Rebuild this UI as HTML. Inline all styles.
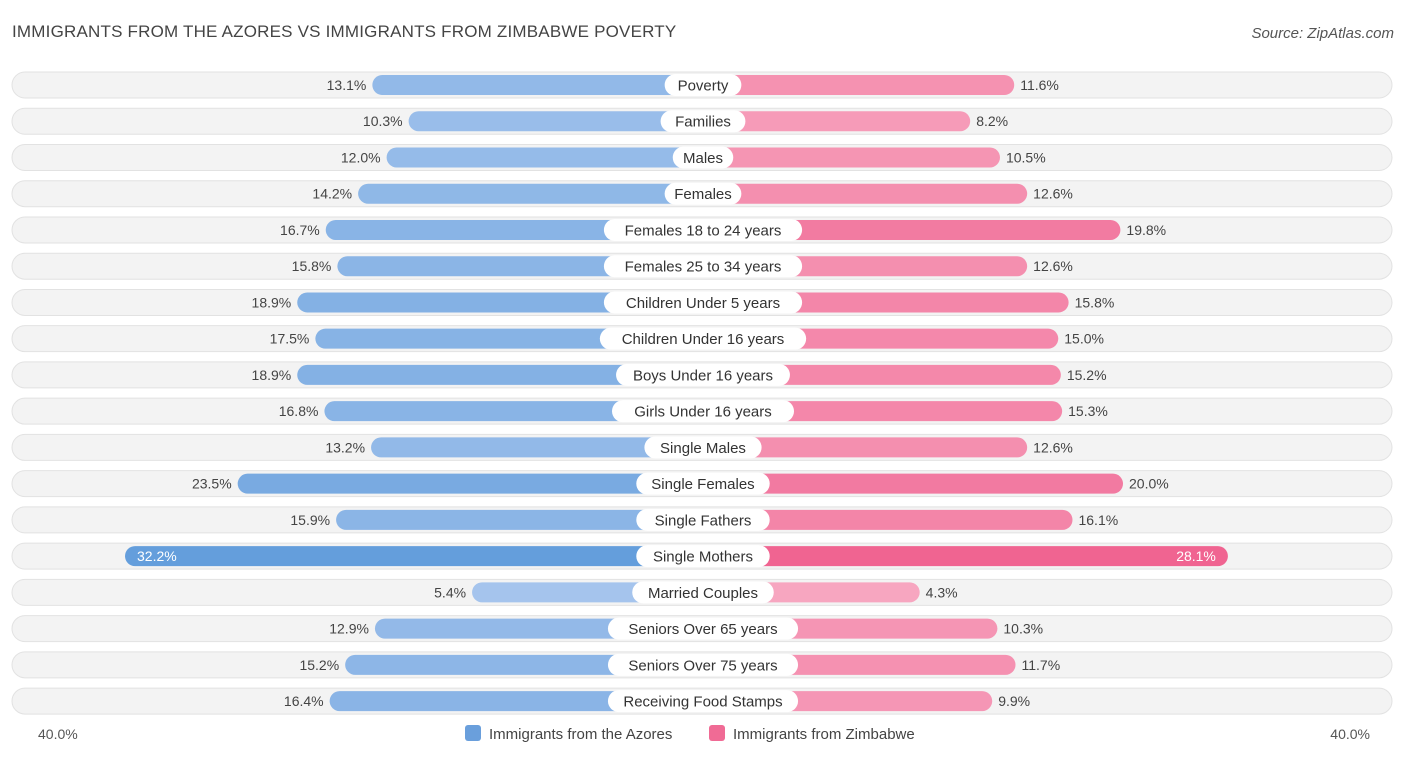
<!DOCTYPE html>
<html><head><meta charset="utf-8">
<style>
body{margin:0;width:1406px;height:758px;background:#fff;font-family:"Liberation Sans",sans-serif;overflow:hidden;position:relative}
.t{position:absolute;left:12px;top:22px;font-size:17px;color:#444;letter-spacing:.2px}
.s{position:absolute;right:12px;top:25px;font-size:15px;color:#555;font-style:italic}
</style></head><body>
<div class="t">IMMIGRANTS FROM THE AZORES VS IMMIGRANTS FROM ZIMBABWE POVERTY</div>
<div class="s">Source: ZipAtlas.com</div>
<svg id="c" width="1406" height="758" style="position:absolute;left:0;top:0"></svg>
<script>
const categories=["Poverty","Families","Males","Females","Females 18 to 24 years","Females 25 to 34 years","Children Under 5 years","Children Under 16 years","Boys Under 16 years","Girls Under 16 years","Single Males","Single Females","Single Fathers","Single Mothers","Married Couples","Seniors Over 65 years","Seniors Over 75 years","Receiving Food Stamps"];
const azores=[13.1,10.3,12.0,14.2,16.7,15.8,18.9,17.5,18.9,16.8,13.2,23.5,15.9,32.2,5.4,12.9,15.2,16.4];
const zimbabwe=[11.6,8.2,10.5,12.6,19.8,12.6,15.8,15.0,15.2,15.3,12.6,20.0,16.1,28.1,4.3,10.3,11.7,9.9];
const axisLabels=["40.0%","40.0%"];
const NS="http://www.w3.org/2000/svg",svg=document.getElementById('c');
const cx=703,off=161,k=12.95,y0=85,dy=36.24;
function xl(v){return cx-off-k*v}function xr(v){return cx+off+k*v}
function mk(t,a,p){const e=document.createElementNS(NS,t);for(const q in a)e.setAttribute(q,a[q]);(p||svg).appendChild(e);return e}
function mix(a,b,t){return 'rgb('+a.map((x,i)=>Math.round(x+(b[i]-x)*t)).join(',')+')'}
categories.forEach((c,i)=>{
 const y=y0+i*dy;
 const g=mk('g',{});
 
 
 const bg=mk('rect',{x:12,y:y-13,width:1380,height:26,rx:13,fill:'#f3f3f3',stroke:'#e2e2e2'},g);
 
 const ta=Math.min(1,azores[i]/32),tz=Math.min(1,zimbabwe[i]/28);
 const l=mk('rect',{x:xl(azores[i]),y:y-10,width:cx-xl(azores[i]),height:20,rx:10,fill:mix([178,204,240],[100,158,220],ta)},g);
 
 const r=mk('rect',{x:cx,y:y-10,width:xr(zimbabwe[i])-cx,height:20,rx:10,fill:mix([248,178,200],[240,100,145],tz)},g);
 
 const w=c.length*8.1+20;
 const lb=mk('rect',{x:cx-w/2,y:y-11,width:w,height:22,rx:11,fill:'#fff'},g);
 
 const tx=mk('text',{x:cx,y:y+5.5,'text-anchor':'middle','font-size':15,fill:'#333'},g);tx.textContent=c;
 
 const inside=azores[i]>30;
 const va=mk('text',{x:inside?xl(azores[i])+12:xl(azores[i])-6,y:y+5,'text-anchor':inside?'start':'end','font-size':14,fill:inside?'#fff':'#444'},g);va.textContent=azores[i].toFixed(1)+'%';
 
 const ins2=zimbabwe[i]>26;
 const vz=mk('text',{x:ins2?xr(zimbabwe[i])-12:xr(zimbabwe[i])+6,y:y+5,'text-anchor':ins2?'end':'start','font-size':14,fill:ins2?'#fff':'#444'},g);vz.textContent=zimbabwe[i].toFixed(1)+'%';
 
});
const a1=mk('text',{x:38,y:739,'font-size':14,fill:'#555'});a1.textContent=axisLabels[0];

const a2=mk('text',{x:1370,y:739,'font-size':14,fill:'#555','text-anchor':'end'});a2.textContent=axisLabels[1];

[[465,'#6a9fdc','Immigrants from the Azores'],[709,'#f06b95','Immigrants from Zimbabwe']].forEach(([x,col,t])=>{
 const g=mk('g',{});
 mk('rect',{x:x,y:725,width:16,height:16,rx:3,fill:col},g);
 const tt=mk('text',{x:x+24,y:739,'font-size':15,fill:'#444'},g);tt.textContent=t;
});
</script>
</body></html>
